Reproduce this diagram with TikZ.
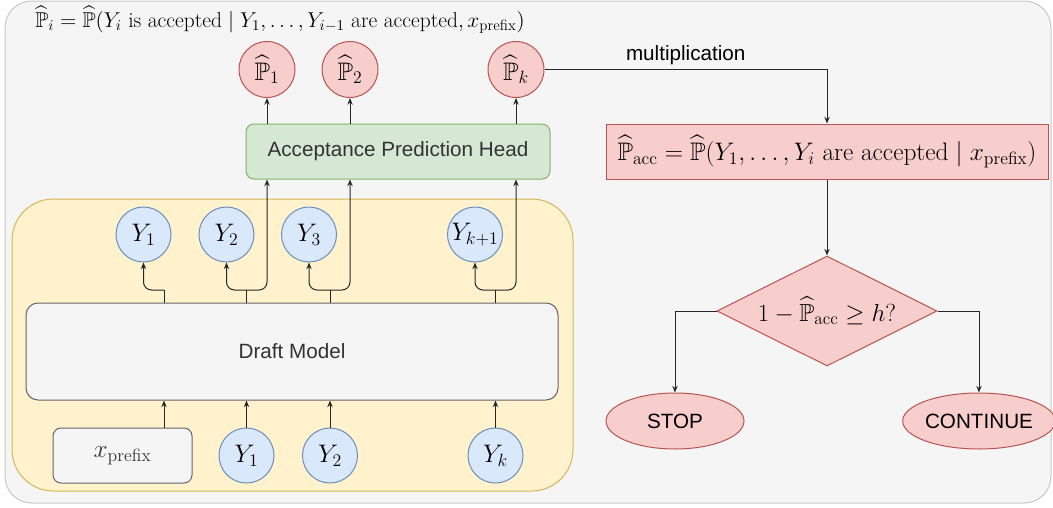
\RequirePackage{fix-cm}
\documentclass[tikz,border=0pt]{standalone}
\usepackage{amsmath,amssymb}
\usepackage{fontspec}
\newfontfamily\drawfont{Liberation Sans}
\usetikzlibrary{shapes.geometric,arrows.meta,calc}
\definecolor{bgfill}{HTML}{F5F5F5}
\definecolor{bgbord}{HTML}{C8C8C8}
\definecolor{yfill}{HTML}{FFF2CC}
\definecolor{ybord}{HTML}{D6B656}
\definecolor{gfill}{HTML}{F5F5F5}
\definecolor{gbord}{HTML}{666666}
\definecolor{txtgray}{HTML}{333333}
\definecolor{bfill}{HTML}{DAE8FC}
\definecolor{bbord}{HTML}{6C8EBF}
\definecolor{rfill}{HTML}{F8CECC}
\definecolor{rbord}{HTML}{B85450}
\definecolor{grfill}{HTML}{D5E8D4}
\definecolor{grbord}{HTML}{82B366}
\newcommand{\hatP}{\widehat{\mathbb{P}}}
\newcommand{\mfs}{\fontsize{19}{22}\selectfont}
\newcommand{\sfs}{\drawfont\fontsize{15.5}{18}\selectfont}
\begin{document}
\begin{tikzpicture}[x=0.75pt,y=-0.75pt,
  yc/.style={circle, draw=bbord, fill=bfill, line width=0.75pt, minimum size=41.25pt, inner sep=0pt, font=\mfs},
  pc/.style={circle, draw=rbord, fill=rfill, line width=0.75pt, minimum size=42pt, inner sep=0pt, font=\mfs},
  graybox/.style={rectangle, draw=gbord, fill=gfill, line width=0.75pt, inner sep=0pt},
  arr/.style={-{Stealth[length=5pt,width=4pt]}, line width=0.75pt, draw=black!85},
  plain/.style={line width=0.75pt, draw=black!85}
]
\useasboundingbox (0,0) rectangle (1053,507);
\draw[draw=bgbord, fill=bgfill, line width=0.75pt, rounded corners=20pt] (5,1) rectangle (1051,503);
\draw[draw=ybord, fill=yfill, line width=0.75pt, rounded corners=31pt] (12,199) rectangle (573,491);

\node[anchor=west, inner sep=0pt, font=\fontsize{16.1}{19}\selectfont] (title) at (35,20)
  {$\hatP_i = \hatP(Y_i \text{ is accepted} \mid Y_1,\dots,Y_{i-1} \text{ are accepted}, x_{\text{prefix}})$};

\node[graybox, minimum width=399pt, minimum height=72.75pt, rounded corners=9pt, font=\sfs, text=txtgray] (dm) at (292,351.5) {Draft Model};
\node[graybox, minimum width=104.25pt, minimum height=41.25pt, rounded corners=6pt, font=\mfs, text=txtgray] (xp) at (122.5,455.5) {$x_{\text{prefix}}$};

\node[yc] (yb1) at (246.5,455.5) {$Y_1$};
\node[yc] (yb2) at (330,455.5) {$Y_2$};
\node[yc] (ybk) at (495.5,455.5) {$Y_k$};

\node[yc] (yt1) at (143.5,234.5) {$Y_1$};
\node[yc] (yt2) at (226.5,234.5) {$Y_2$};
\node[yc] (yt3) at (309,234.5) {$Y_3$};
\node[yc] (ytk) at (475,234.5) {$Y_{k+1}$};

\node[rectangle, draw=grbord, fill=grfill, line width=0.75pt, rounded corners=6pt, minimum width=228pt, minimum height=41.25pt, inner sep=0pt, font=\sfs, text=txtgray] (aph) at (398,151.5) {Acceptance Prediction Head};

\node[pc] (p1) at (267,69.5) {$\hatP_1$};
\node[pc] (p2) at (350,69.5) {$\hatP_2$};
\node[pc] (pk) at (516,69.5) {$\hatP_k$};

\node[rectangle, draw=rbord, fill=rfill, line width=0.75pt, minimum width=331.5pt, minimum height=41.25pt, inner sep=0pt, font=\mfs] (acc) at (827,151.5)
  {$\hatP_{\text{acc}} = \hatP(Y_1,\dots,Y_i \text{ are accepted} \mid x_{\text{prefix}})$};

\node[diamond, aspect=2, draw=rbord, fill=rfill, line width=0.75pt, minimum width=165pt, minimum height=82.5pt, inner sep=0pt, font=\fontsize{18.5}{22}\selectfont] (dia) at (827,311)
  {$1-\hatP_{\text{acc}}\geq h?$};

\node[ellipse, draw=rbord, fill=rfill, line width=0.75pt, minimum width=103.5pt, minimum height=42pt, inner sep=0pt, font=\sfs] (stop) at (675,421) {STOP};
\node[ellipse, draw=rbord, fill=rfill, line width=0.75pt, minimum width=103.5pt, minimum height=42pt, inner sep=0pt, font=\sfs] (cont) at (979,421) {CONTINUE};

\coordinate (j1) at (164,290);
\coordinate (j2) at (yb1 |- j1);
\coordinate (j3) at (yb2 |- j1);
\coordinate (j4) at (ybk |- j1);

% inputs into draft model
\draw[arr] (xp.north -| j1) -- (dm.south -| j1);
\draw[arr] (yb1.north) -- (dm.south -| yb1);
\draw[arr] (yb2.north) -- (dm.south -| yb2);
\draw[arr] (ybk.north) -- (dm.south -| ybk);

% outputs of draft model
\draw[plain] (dm.north -| j1) -- (j1);
\draw[plain] (dm.north -| j2) -- (j2);
\draw[plain] (dm.north -| j3) -- (j3);
\draw[plain] (dm.north -| j4) -- (j4);
\draw[arr, rounded corners=6pt] (j1) -- (j1 -| yt1) -- (yt1.south);
\draw[arr, rounded corners=6pt] (j2) -- (j2 -| yt2) -- (yt2.south);
\draw[arr, rounded corners=6pt] (j3) -- (j3 -| yt3) -- (yt3.south);
\draw[arr, rounded corners=6pt] (j4) -- (j4 -| ytk) -- (ytk.south);
\draw[arr, rounded corners=6pt] (j2) -- (j2 -| p1) -- (aph.south -| p1);
\draw[arr, rounded corners=6pt] (j3) -- (j3 -| p2) -- (aph.south -| p2);
\draw[arr, rounded corners=6pt] (j4) -- (j4 -| pk) -- (aph.south -| pk);

% head outputs
\draw[arr] (aph.north -| p1) -- (p1.south);
\draw[arr] (aph.north -| p2) -- (p2.south);
\draw[arr] (aph.north -| pk) -- (pk.south);

% right flow
\draw[arr] (pk.east) -- node[above, inner sep=3.5pt, font=\sfs] (mult) {multiplication} (pk.east -| acc) -- (acc.north);
\draw[arr] (acc.south) -- (dia.north);
\draw[arr] (dia.west) -- (dia.west -| stop) -- (stop.north);
\draw[arr] (dia.east) -- (dia.east -| cont) -- (cont.north);
\end{tikzpicture}
\end{document}
